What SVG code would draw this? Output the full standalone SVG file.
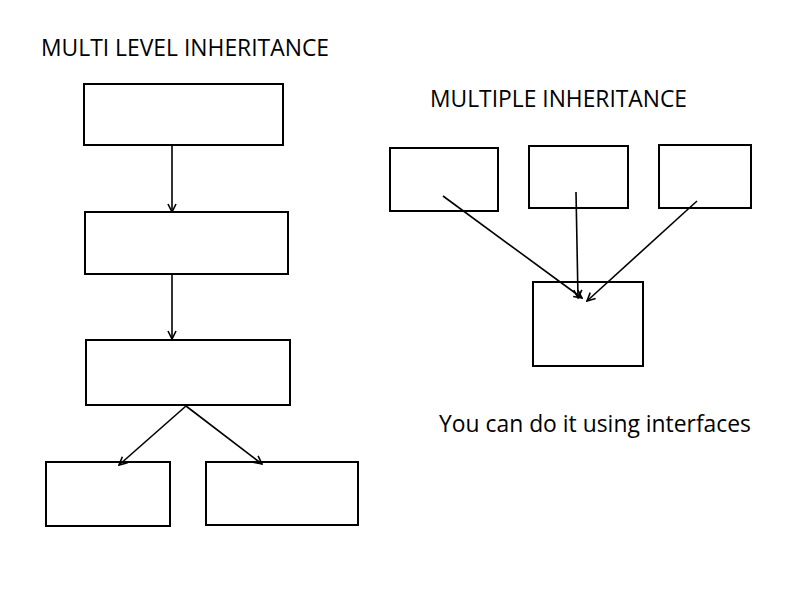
<svg xmlns="http://www.w3.org/2000/svg" width="800" height="600" viewBox="0 0 800 600">
<style>
.box{fill:#fff;stroke:#000;stroke-width:2}
.ln{fill:none;stroke:#000;stroke-width:1.6;marker-end:url(#ah)}
.t{font-family:"Open Sans","Liberation Sans",sans-serif;font-size:23px;fill:#000}
</style>
<defs>
<marker id="ah" viewBox="0 0 10 10" refX="9" refY="5" markerWidth="10" markerHeight="10" markerUnits="userSpaceOnUse" orient="auto">
<path d="M1,1 L9,5 L1,9" fill="none" stroke="#000" stroke-width="1.6"/>
</marker>
</defs>
<rect width="800" height="600" fill="#fff"/>
<text class="t" x="41" y="56" textLength="288" lengthAdjust="spacingAndGlyphs">MULTI LEVEL INHERITANCE</text>
<text class="t" x="430" y="107" textLength="257" lengthAdjust="spacingAndGlyphs">MULTIPLE INHERITANCE</text>
<text class="t" x="439" y="432" textLength="312" lengthAdjust="spacingAndGlyphs">You can do it using interfaces</text>
<g id="n1"><rect class="box" x="84" y="84" width="199" height="61"/></g>
<g id="n2"><rect class="box" x="85" y="212" width="203" height="62"/></g>
<g id="n3"><rect class="box" x="86" y="340" width="204" height="65"/></g>
<g id="n4"><rect class="box" x="46" y="462" width="124" height="64"/></g>
<g id="n5"><rect class="box" x="206" y="462" width="152" height="63"/></g>
<g id="m1"><rect class="box" x="390" y="148" width="108" height="63"/></g>
<g id="m2"><rect class="box" x="529" y="146" width="99" height="62"/></g>
<g id="m3"><rect class="box" x="659" y="145" width="92" height="63"/></g>
<g id="m4"><rect class="box" x="533" y="282" width="110" height="84"/></g>
<g id="connectors">
<line class="ln" x1="172" y1="145" x2="172" y2="212"/>
<line class="ln" x1="172" y1="274" x2="172" y2="339"/>
<line class="ln" x1="186" y1="406" x2="119" y2="465"/>
<line class="ln" x1="186" y1="406" x2="262" y2="464"/>
<line class="ln" x1="443" y1="196" x2="582" y2="298"/>
<line class="ln" x1="576" y1="192" x2="578" y2="298"/>
<line class="ln" x1="697" y1="201" x2="587" y2="301"/>
</g>
</svg>
